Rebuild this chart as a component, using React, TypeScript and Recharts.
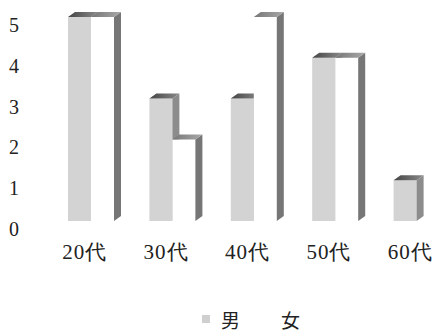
import React from 'react';
import { BarChart, Bar, XAxis, YAxis, Legend } from 'recharts';

const categories = ['20代', '30代', '40代', '50代', '60代'];
const maleValues = [5, 3, 3, 4, 1];
const femaleValues = [5, 2, 5, 4, 0];
const yTicks = [0, 1, 2, 3, 4, 5];
const seriesNames = ['男', '女'];

const data = categories.map((c, i) => ({ name: c, male: maleValues[i], female: femaleValues[i] }));

const DX = 7;
const DY = 5;

function Bar3D(props: any) {
  const { x, y, width, height, kind } = props;
  if (!height || height <= 0) return null;
  const w = width;
  const h = height;
  const front = kind === 'male' ? '#d3d3d3' : '#ffffff';
  const side = kind === 'male' ? '#8c8c8c' : '#767676';
  const top = `M${x},${y} L${x + DX},${y - DY} L${x + w + DX},${y - DY} L${x + w},${y} Z`;
  const sidePath = `M${x + w},${y} L${x + w + DX},${y - DY} L${x + w + DX},${y + h - DY} L${x + w},${y + h} Z`;
  return (
    <g>
      <rect x={x} y={y} width={w} height={h} fill={front} />
      <path d={sidePath} fill={side} />
      <path d={top} fill={kind === 'male' ? 'url(#topGradM)' : 'url(#topGradF)'} />
    </g>
  );
}

const YTick = (props: any) => {
  const { y, payload } = props;
  return (
    <text x={14} y={y + 8} textAnchor="middle" dominantBaseline="central" fontFamily="Liberation Serif" fontSize={20} fill="#222">
      {payload.value}
    </text>
  );
};

const XTick = (props: any) => {
  const { x, y, payload } = props;
  return (
    <text x={x - 6} y={y + 30} textAnchor="middle" fontFamily="Liberation Serif" fontSize={21} letterSpacing={1} fill="#222">
      {payload.value}
    </text>
  );
};

const LegendContent = (props: any) => {
  const { payload } = props;
  const items = seriesNames.map((n) => (payload || []).find((p: any) => p.value === n)).filter(Boolean);
  return (
    <div style={{ position: 'relative', height: 26, width: 470 }}>
      {items.map((item: any, i: number) => (
        <div key={i} style={{ position: 'absolute', left: 202 + i * 60, top: 0, display: 'flex', alignItems: 'center', height: 26 }}>
          <span style={{ display: 'inline-block', width: 8, height: 8, background: i === 0 ? '#cfcfcf' : '#ffffff', marginRight: 11 }} />
          <span style={{ fontFamily: "'Noto Sans CJK JP', sans-serif", fontSize: 19, color: '#222' }}>{item.value}</span>
        </div>
      ))}
    </div>
  );
};

export default function App() {
  return (
    <div style={{ position: 'absolute', left: 0, top: 0, width: 438, height: 331, overflow: 'hidden', background: '#fff' }}>
      <BarChart width={470} height={331} data={data} margin={{ top: 17, right: 13, left: 0, bottom: 60 }} barGap={0} barSize={23}>
        <defs>
          <linearGradient id="topGradM" x1="0" y1="0" x2="1" y2="0">
            <stop offset="0" stopColor="#444" />
            <stop offset="1" stopColor="#8a8a8a" />
          </linearGradient>
          <linearGradient id="topGradF" x1="0" y1="0" x2="1" y2="0">
            <stop offset="0" stopColor="#777" />
            <stop offset="1" stopColor="#a8a8a8" />
          </linearGradient>
        </defs>
        <XAxis dataKey="name" axisLine={false} tickLine={false} height={50} tick={<XTick />} interval={0} />
        <YAxis width={50} domain={[0, 5]} ticks={yTicks} axisLine={false} tickLine={false} tick={<YTick />} />
        <Legend layout="horizontal" verticalAlign="middle" content={<LegendContent />} wrapperStyle={{ position: 'absolute', left: 0, top: 306, width: 470 }} />
        <Bar dataKey="male" name={seriesNames[0]} fill="#cfcfcf" isAnimationActive={false} shape={(p: any) => <Bar3D {...p} kind="male" />} />
        <Bar dataKey="female" name={seriesNames[1]} fill="#ffffff" isAnimationActive={false} shape={(p: any) => <Bar3D {...p} kind="female" />} />
      </BarChart>
    </div>
  );
}
